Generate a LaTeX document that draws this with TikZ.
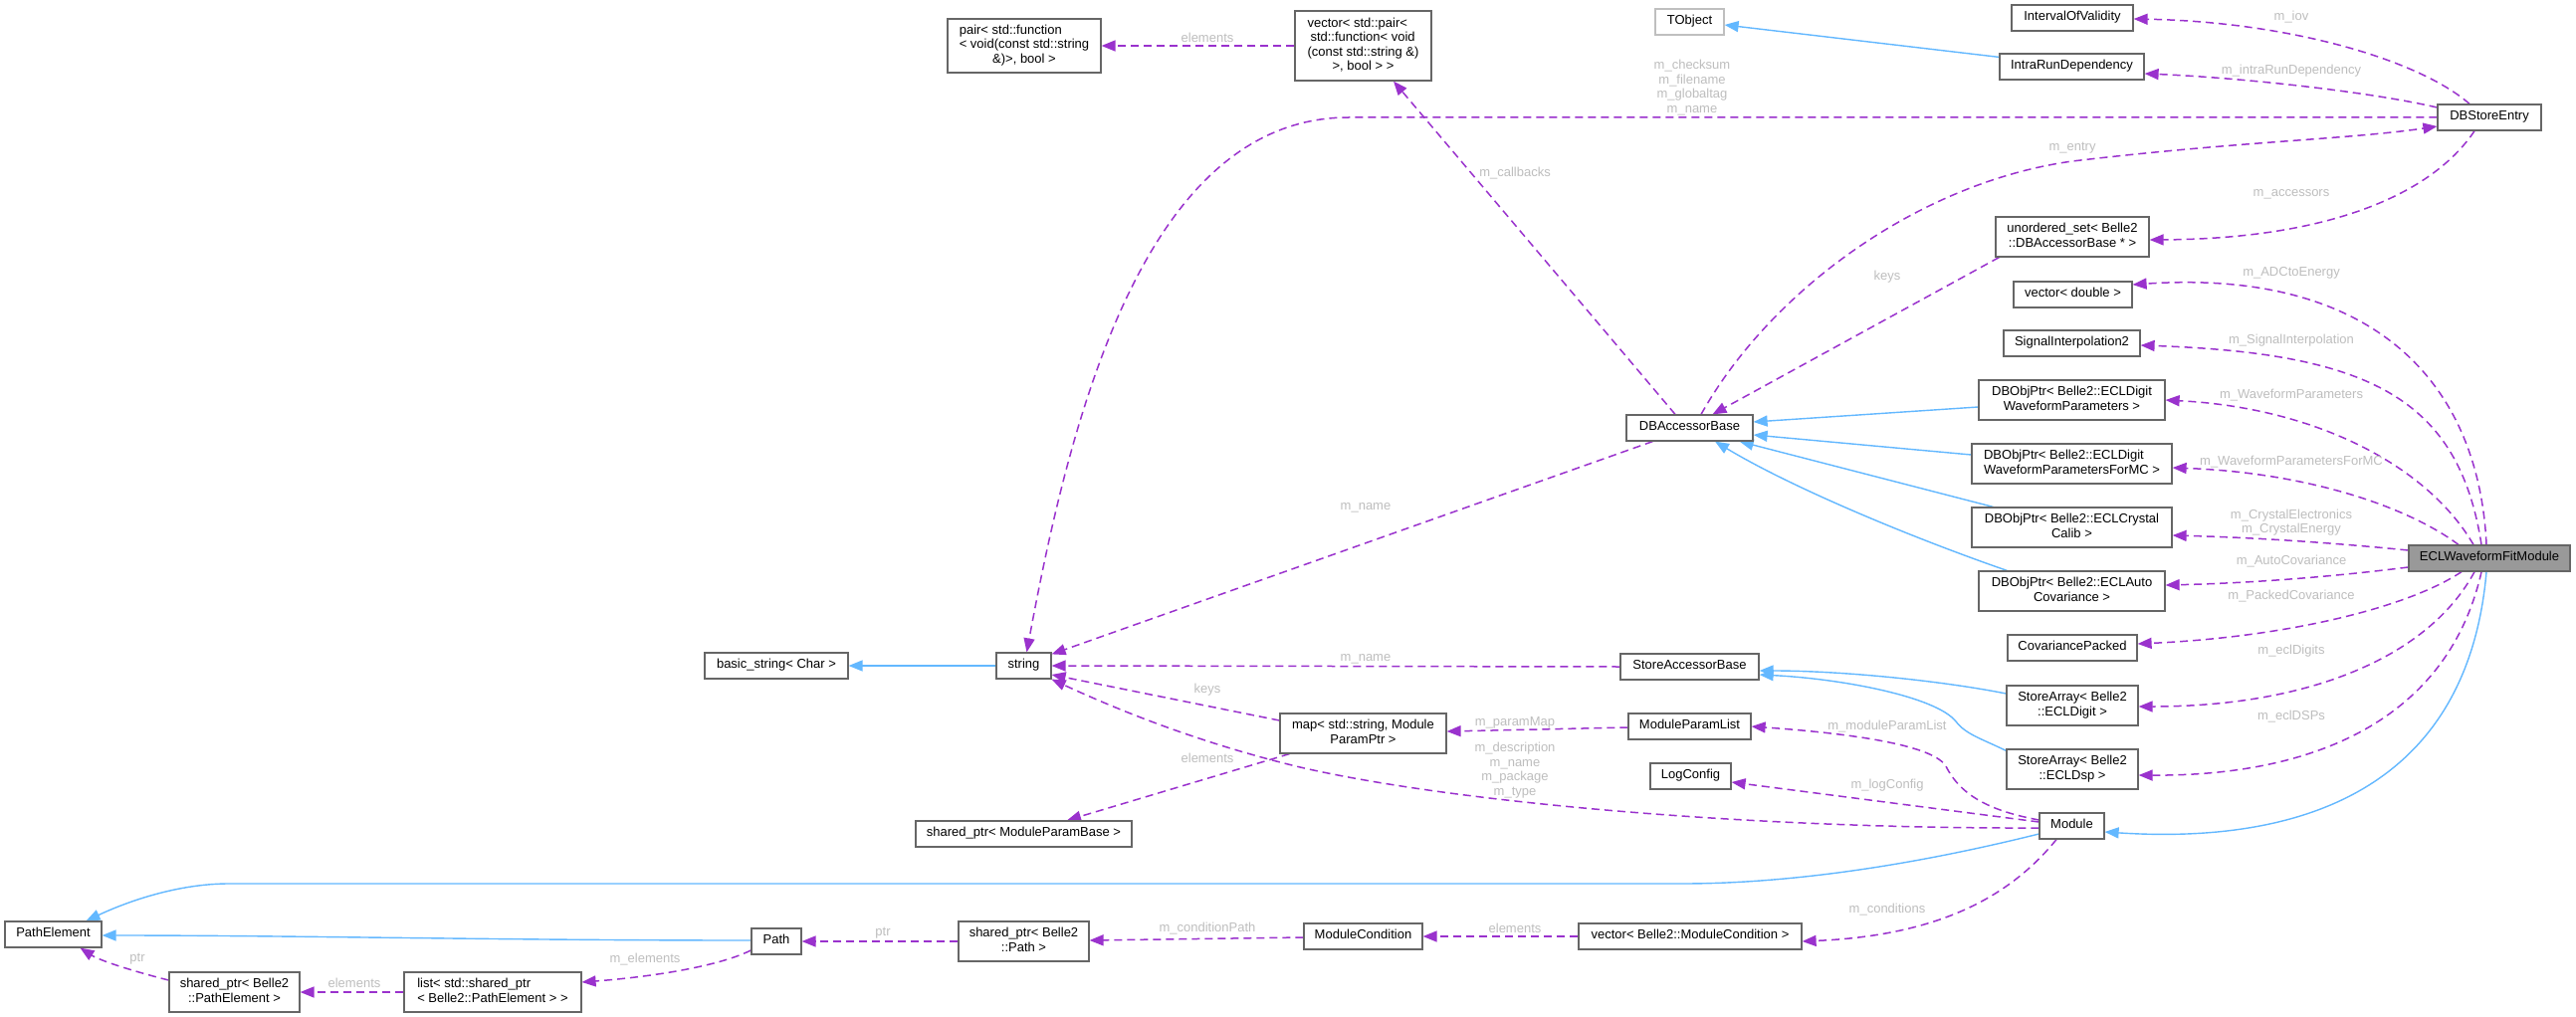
\documentclass[tikz,border=0pt]{standalone}
\usepackage{fontspec}
\setmainfont{Liberation Sans}
\usetikzlibrary{arrows.meta,calc}
\definecolor{usecol}{HTML}{9A32CD}
\definecolor{inhcol}{HTML}{63B8FF}
\definecolor{boxgray}{HTML}{666666}
\definecolor{lightbox}{HTML}{BFBFBF}
\definecolor{labcol}{HTML}{BEBEBE}
\definecolor{rootfill}{HTML}{999999}
\pgfdeclarelayer{bg}
\pgfsetlayers{bg,main}
\newcommand\boxfont{\fontsize{13}{14.5}\selectfont}
\newcommand\labfont{\fontsize{13}{14.7}\selectfont}
\newcommand\lineone[1]{\begin{tabular}{@{}c@{}}#1\end{tabular}}
\newcommand\linetwo[2]{\begin{tabular}{@{}l@{}}#1\\\multicolumn{1}{@{}c@{}}{#2}\end{tabular}}
\begin{document}
\begin{tikzpicture}[x=1pt,y=-1pt,
  box/.style={draw=boxgray,line width=1.2pt,fill=white,inner sep=0pt,font=\boxfont},
  use/.style={draw=usecol,line width=1.5pt,dash pattern=on 8pt off 5pt,-{Triangle[length=14pt,width=11pt]}},
  inh/.style={draw=inhcol,line width=1.4pt,-{Triangle[length=14pt,width=11pt]}},
  lab/.style={text=labcol,inner sep=0pt,font=\labfont,align=center}]
\useasboundingbox (0,0) rectangle (2588,1022);
\begin{pgfonlayer}{bg}
\fill[white] (0,0) rectangle (2588,1022);
\end{pgfonlayer}

% ---------- nodes ----------
\node[box,minimum width=154pt,minimum height=54pt] (pair) at (1029,46)
  {\begin{tabular}{@{}l@{}}pair< std::function\\< void(const std::string\\\multicolumn{1}{@{}c@{}}{\&)>, bool >}\end{tabular}};
\node[box,minimum width=137pt,minimum height=70pt] (vecP) at (1369.5,46)
  {\begin{tabular}{@{}l@{}}vector< std::pair<\\\hspace{3pt}std::function< void\\(const std::string \&)\\\multicolumn{1}{@{}c@{}}{>, bool > >}\end{tabular}};
\node[box,draw=lightbox,minimum width=69pt,minimum height=26pt] (TObj) at (1697.5,22) {\lineone{TObject}};
\node[box,minimum width=122pt,minimum height=26pt] (IOV) at (2082,18) {\lineone{IntervalOfValidity}};
\node[box,minimum width=145pt,minimum height=26pt] (IRD) at (2081.5,67) {\lineone{IntraRunDependency}};
\node[box,minimum width=104pt,minimum height=26pt] (DBSE) at (2501,118) {\lineone{DBStoreEntry}};
\node[box,minimum width=154pt,minimum height=40pt] (uset) at (2082,238) {\linetwo{unordered\_set< Belle2}{::DBAccessorBase * >}};
\node[box,minimum width=119pt,minimum height=26pt] (vecD) at (2082.5,296) {\lineone{vector< double >}};
\node[box,minimum width=137pt,minimum height=26pt] (SigI) at (2081.5,345) {\lineone{SignalInterpolation2}};
\node[box,minimum width=187pt,minimum height=40pt] (WaveP) at (2081.5,402) {\linetwo{DBObjPtr< Belle2::ECLDigit}{WaveformParameters >}};
\node[box,minimum width=201pt,minimum height=40pt] (ForMC) at (2081.5,466) {\linetwo{DBObjPtr< Belle2::ECLDigit}{WaveformParametersForMC >}};
\node[box,minimum width=201pt,minimum height=40pt] (CryC) at (2081.5,530) {\linetwo{DBObjPtr< Belle2::ECLCrystal}{Calib >}};
\node[box,minimum width=187pt,minimum height=40pt] (AutoC) at (2081.5,594) {\linetwo{DBObjPtr< Belle2::ECLAuto}{Covariance >}};
\node[box,minimum width=130pt,minimum height=26pt] (CovP) at (2082,651) {\lineone{CovariancePacked}};
\node[box,minimum width=132pt,minimum height=40pt] (SAdig) at (2082,709) {\linetwo{StoreArray< Belle2}{::ECLDigit >}};
\node[box,minimum width=132pt,minimum height=40pt] (SAdsp) at (2082,773) {\linetwo{StoreArray< Belle2}{::ECLDsp >}};
\node[box,minimum width=65pt,minimum height=26pt] (Mod) at (2081.5,830) {\lineone{Module}};
\node[box,fill=rootfill,minimum width=162pt,minimum height=26pt] (ECL) at (2501,561) {\lineone{ECLWaveformFitModule}};
\node[box,minimum width=127pt,minimum height=26pt] (DBAB) at (1697.5,430) {\lineone{DBAccessorBase}};
\node[box,minimum width=139pt,minimum height=26pt] (SAB) at (1697.5,670) {\lineone{StoreAccessorBase}};
\node[box,minimum width=123pt,minimum height=26pt] (MPL) at (1697.5,730) {\lineone{ModuleParamList}};
\node[box,minimum width=81pt,minimum height=26pt] (LC) at (1698.5,780) {\lineone{LogConfig}};
\node[box,minimum width=224pt,minimum height=26pt] (vecMC) at (1698,941) {\lineone{vector< Belle2::ModuleCondition >}};
\node[box,minimum width=119pt,minimum height=26pt] (MC) at (1369.5,941) {\lineone{ModuleCondition}};
\node[box,minimum width=167pt,minimum height=40pt] (map) at (1369.5,737) {\linetwo{map< std::string, Module}{ParamPtr >}};
\node[box,minimum width=217pt,minimum height=26pt] (spMPB) at (1028.5,838) {\lineone{shared\_ptr< ModuleParamBase >}};
\node[box,minimum width=131pt,minimum height=40pt] (spPath) at (1028.5,946) {\linetwo{shared\_ptr< Belle2}{::Path >}};
\node[box,minimum width=55pt,minimum height=26pt] (str) at (1028.5,669) {\lineone{string}};
\node[box,minimum width=144pt,minimum height=26pt] (bstr) at (780,669) {\lineone{basic\_string< Char >}};
\node[box,minimum width=50pt,minimum height=26pt] (Path) at (780,946) {\lineone{Path}};
\node[box,minimum width=97pt,minimum height=26pt] (PE) at (53.5,939) {\lineone{PathElement}};
\node[box,minimum width=131pt,minimum height=40pt] (spPE) at (235.5,997) {\linetwo{shared\_ptr< Belle2}{::PathElement >}};
\node[box,minimum width=178pt,minimum height=40pt] (listPE) at (495,997) {\linetwo{list< std::shared\_ptr}{< Belle2::PathElement > >}};

% ---------- edges ----------
\begin{pgfonlayer}{bg}
\draw[use] (vecP.west) -- (pair.east);
\draw[use] ($(DBAB.north)+(-14.5,0)$) -- ($(vecP.south)+(30.5,0)$);
\draw[use] (DBSE.west) -- (1355,118) .. controls (1150,118) and (1075,420) .. ($(str.north)+(3,0)$);
\draw[use] ($(DBAB.north)+(11.5,0)$) .. controls (1780,290) and (1930,183) .. (2082,162) .. controls (2250,142) and (2360,140) .. ($(DBSE.west)+(0,9)$);
\draw[use] ($(uset.south west)+(4,0)$) -- ($(DBAB.north)+(23,0)$);
\draw[use] ($(DBSE.south)+(-15,0)$) .. controls (2440,200) and (2330,240) .. ($(uset.east)+(0,3)$);
\draw[use] ($(DBSE.north)+(-20,0)$) .. controls (2430,60) and (2300,22) .. ($(IOV.east)+(0,1)$);
\draw[use] ($(DBSE.west)+(0,-10)$) .. controls (2380,92) and (2250,78) .. ($(IRD.east)+(0,7)$);
\draw[inh] ($(IRD.north west)+(0,4)$) -- ($(TObj.east)+(0,3)$);
\draw[inh] ($(WaveP.west)+(0,7)$) -- ($(DBAB.east)+(0,-6)$);
\draw[inh] ($(ForMC.west)+(0,-9)$) -- ($(DBAB.east)+(0,7)$);
\draw[inh] ($(CryC.north west)+(22,0)$) -- ($(DBAB.south east)+(-14,0)$);
\draw[inh] ($(AutoC.north west)+(29,0)$) .. controls (1920,540) and (1800,490) .. ($(DBAB.south)+(25.5,0)$);
% from ECLWaveformFitModule
\draw[use] ($(ECL.north)+(-3,0)$) .. controls (2490,380) and (2380,270) .. ($(vecD.east)+(0,-10)$);
\draw[use] ($(ECL.north)+(-8,0)$) .. controls (2470,400) and (2380,355) .. ($(SigI.east)+(0,2)$);
\draw[use] ($(ECL.north)+(-16,0)$) .. controls (2440,470) and (2330,410) .. (WaveP.east);
\draw[use] ($(ECL.north)+(-31,0)$) .. controls (2420,510) and (2320,475) .. ($(ForMC.east)+(0,4)$);
\draw[use] ($(ECL.west)+(0,-8)$) .. controls (2340,545) and (2260,540) .. ($(CryC.east)+(0,8)$);
\draw[use] ($(ECL.west)+(0,9)$) .. controls (2340,580) and (2260,586) .. ($(AutoC.east)+(0,-6)$);
\draw[use] ($(ECL.south)+(-28,0)$) .. controls (2420,610) and (2300,640) .. ($(CovP.east)+(0,-4)$);
\draw[use] ($(ECL.south)+(-15,0)$) .. controls (2440,660) and (2320,710) .. ($(SAdig.east)+(0,1)$);
\draw[use] ($(ECL.south)+(-8,0)$) .. controls (2460,720) and (2330,780) .. ($(SAdsp.east)+(0,6)$);
\draw[inh] ($(ECL.south)+(-3,0)$) .. controls (2480,780) and (2330,850) .. ($(Mod.east)+(0,6)$);
% StoreArray inheritance
\draw[inh] ($(SAdig.west)+(0,-12)$) .. controls (1950,684) and (1850,674) .. ($(SAB.east)+(0,4)$);
\draw[inh] ($(SAdsp.north west)+(0,2)$) .. controls (1990,742) and (1975,738) .. (1965,725) .. controls (1945,700) and (1850,682) .. ($(SAB.east)+(0,8)$);
% Module
\draw[use] ($(Mod.west)+(0,-6)$) .. controls (2000,815) and (1970,800) .. (1955,770) .. controls (1940,745) and (1830,735) .. (MPL.east);
\draw[use] ($(Mod.west)+(0,-4)$) -- ($(LC.east)+(0,6)$);
\draw[use] ($(Mod.west)+(0,2)$) .. controls (1750,833) and (1450,805) .. (1302,770) .. controls (1200,745) and (1120,712) .. (str.south east);
\draw[use] ($(Mod.south)+(-15.5,0)$) .. controls (2020,900) and (1950,940) .. ($(vecMC.east)+(0,5)$);
\draw[inh] ($(Mod.west)+(0,8)$) .. controls (1900,875) and (1780,888) .. (1690,888) -- (230,888) .. controls (180,888) and (130,905) .. ($(PE.north)+(33,0)$);
% string area
\draw[use] ($(map.west)+(0,-13)$) -- ($(str.east)+(0,9)$);
\draw[use] ($(map.south west)+(10,0)$) -- ($(spMPB.north)+(43.5,0)$);
\draw[use] (SAB.west) -- (str.east);
\draw[use] ($(DBAB.south west)+(27,0)$) -- ($(str.north east)+(0,2)$);
\draw[use] ($(MPL.west)+(0,1)$) -- ($(map.east)+(0,-2)$);
\draw[inh] (str.west) -- (bstr.east);
% bottom row
\draw[use] ($(MC.west)+(0,1)$) -- ($(spPath.east)+(0,-1)$);
\draw[use] (vecMC.west) -- (MC.east);
\draw[use] (spPath.west) -- (Path.east);
\draw[inh] ($(Path.west)+(0,-1)$) .. controls (500,945) and (300,940) .. ($(PE.east)+(0,1)$);
\draw[use] ($(Path.west)+(0,9)$) .. controls (720,972) and (650,982) .. ($(listPE.east)+(0,-10)$);
\draw[use] (listPE.west) -- (spPE.east);
\draw[use] ($(spPE.west)+(0,-12)$) .. controls (130,975) and (100,965) .. ($(PE.south)+(27,0)$);
\end{pgfonlayer}

% ---------- labels ----------
\node[lab] (la1) at (1213,38) {elements};
\node[lab] (la2) at (1522,174) {m\_callbacks};
\node[lab] (la3) at (1700,88) {m\_checksum\\m\_filename\\m\_globaltag\\m\_name};
\node[lab] (la4) at (2082,149) {m\_entry};
\node[lab] (la5) at (1896,278) {keys};
\node[lab] (la6) at (2302,195) {m\_accessors};
\node[lab] (la7) at (2302,17) {m\_iov};
\node[lab] (la8) at (2302,71) {m\_intraRunDependency};
\node[lab] (la9) at (2302,274) {m\_ADCtoEnergy};
\node[lab] (la10) at (2302,342) {m\_SignalInterpolation};
\node[lab] (la11) at (2302,397) {m\_WaveformParameters};
\node[lab] (la12) at (2302,464) {m\_WaveformParametersForMC};
\node[lab] (la13) at (2302,525) {m\_CrystalElectronics\\m\_CrystalEnergy};
\node[lab] (la14) at (2302,564) {m\_AutoCovariance};
\node[lab] (la15) at (2302,599) {m\_PackedCovariance};
\node[lab] (la16) at (2302,654) {m\_eclDigits};
\node[lab] (la17) at (2302,720) {m\_eclDSPs};
\node[lab] (la18) at (1896,730) {m\_moduleParamList};
\node[lab] (la19) at (1896,789) {m\_logConfig};
\node[lab] (la20) at (1522,774) {m\_description\\m\_name\\m\_package\\m\_type};
\node[lab] (la21) at (1896,914) {m\_conditions};
\node[lab] (la22) at (1213,693) {keys};
\node[lab] (la23) at (1213,762) {elements};
\node[lab] (la24) at (1372,662) {m\_name};
\node[lab] (la25) at (1372,510) {m\_name};
\node[lab] (la26) at (1522,726) {m\_paramMap};
\node[lab] (la27) at (1213,933) {m\_conditionPath};
\node[lab] (la28) at (1522,933) {elements};
\node[lab] (la29) at (887,938) {ptr};
\node[lab] (la30) at (648,964) {m\_elements};
\node[lab] (la31) at (356,988) {elements};
\node[lab] (la32) at (138,964) {ptr};
\end{tikzpicture}
\end{document}
